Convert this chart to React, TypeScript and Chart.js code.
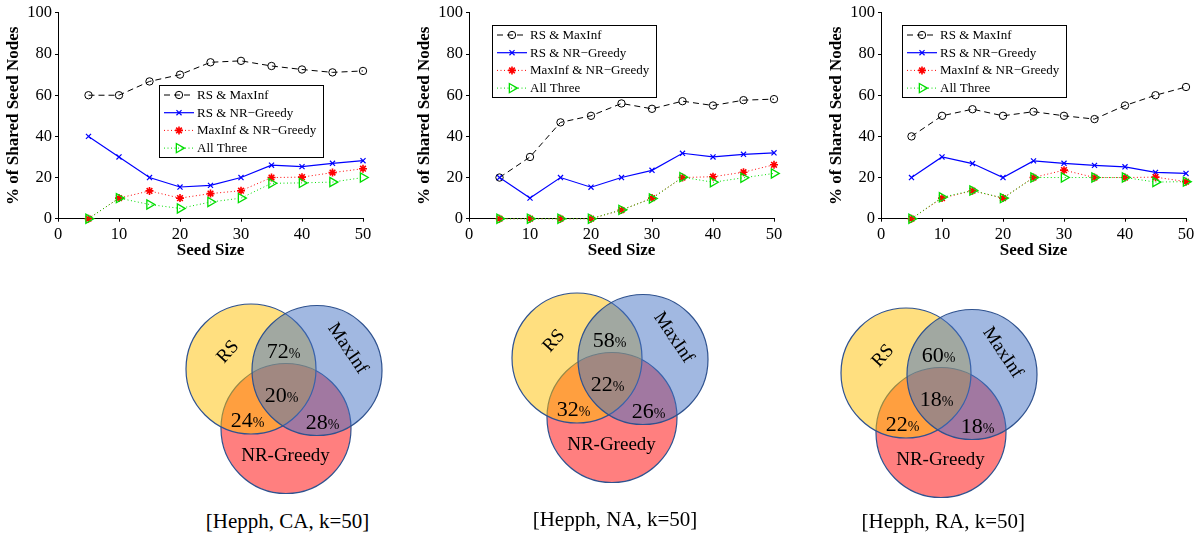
import React, { useEffect, useRef } from 'react';
import { Chart, registerables } from 'chart.js';

Chart.register(...registerables);

const FONT = "'Liberation Serif', 'Times New Roman', Times, serif";
Chart.defaults.font.family = FONT;
Chart.defaults.color = '#000';

// ---------- data ----------
const seedSizes = [5, 10, 15, 20, 25, 30, 35, 40, 45, 50];
const seriesNames = ['RS & MaxInf', 'RS & NR\u2212Greedy', 'MaxInf & NR\u2212Greedy', 'All Three'];
const xTicks = [0, 10, 20, 30, 40, 50];
const yTicks = [0, 20, 40, 60, 80, 100];

const caRsMaxInf = [60, 60, 66.7, 70, 76, 76.7, 74.2, 72.5, 71.1, 71.8];
const caRsNr = [40, 30, 20, 15.4, 16.2, 20, 26, 25.3, 26.9, 28.2];
const caMaxInfNr = [0, 10, 13.5, 10, 12.2, 13.6, 20, 20.2, 22.4, 24.3];
const caAllThree = [0, 10, 6.9, 5, 8.1, 10, 17.2, 17.4, 17.8, 20];

const naRsMaxInf = [20, 30, 46.8, 50, 56, 53.4, 57.1, 55, 57.6, 58.1];
const naRsNr = [20, 10, 20, 15.3, 20, 23.5, 31.8, 30, 31.3, 32];
const naMaxInfNr = [0, 0, 0, 0, 4.2, 10, 20, 20.4, 22.6, 26.2];
const naAllThree = [0, 0, 0, 0, 4.3, 9.8, 20.2, 17.7, 19.9, 22];

const raRsMaxInf = [40, 50, 53.2, 50, 52, 50, 48.4, 55, 60, 64];
const raRsNr = [20, 30, 26.8, 20, 28.1, 26.9, 25.9, 25.2, 22.5, 22];
const raMaxInfNr = [0, 10, 13.6, 10, 20, 23.6, 20, 20, 20.2, 18];
const raAllThree = [0, 10.4, 13.7, 10, 20, 20, 20, 20, 17.8, 18];

const vennSetNames = ['RS', 'MaxInf', 'NR-Greedy'];
// order: RS∩MaxInf, RS∩NR-Greedy, MaxInf∩NR-Greedy, all three
const vennCA = [72, 24, 28, 20];
const vennNA = [58, 32, 26, 22];
const vennRA = [60, 22, 18, 18];
const captions = ['[Hepph, CA, k=50]', '[Hepph, NA, k=50]', '[Hepph, RA, k=50]'];

// ---------- styles / layout ----------
const seriesStyles = [
  { color: '#000000', dash: [6, 4], width: 1, point: 'circle', radius: 3.7, pointWidth: 1, rotation: 0 },
  { color: '#0000FF', dash: [], width: 1.2, point: 'crossRot', radius: 3.6, pointWidth: 1.2, rotation: 0 },
  { color: '#FF0000', dash: [1, 2.5], width: 1, point: 'star', radius: 4, pointWidth: 1.6, rotation: 0 },
  { color: '#00DD00', dash: [1, 2.5], width: 1, point: 'triangle', radius: 5.3, pointWidth: 1.3, rotation: 90 },
];

const VENN_R = 65;
const vennCircleCenters = [
  [0, 0], // RS
  [66, 1.5], // MaxInf
  [35, 59.5], // NR-Greedy
];
const vennFills = ['rgba(255,192,0,0.5)', 'rgba(68,114,196,0.5)', 'rgba(255,0,0,0.5)'];
const vennOrder = [1, 0, 2];
const vennSetLabelPos = [[-23, -17], [96.5, -20.5], [34.5, 87.5]];
const vennSetLabelRot = [-48, 56, 0];
const vennOverlapPos = [[32.5, -18.5], [-3.5, 50.9], [71.7, 52.6], [30.5, 25.6]];

function drawMarker(ctx: CanvasRenderingContext2D, st: any, x: number, y: number) {
  const r = st.radius;
  ctx.save();
  ctx.strokeStyle = st.color;
  ctx.lineWidth = st.pointWidth;
  ctx.setLineDash([]);
  ctx.beginPath();
  if (st.point === 'circle') {
    ctx.arc(x, y, r, 0, Math.PI * 2);
  } else if (st.point === 'crossRot' || st.point === 'star') {
    const d = r * Math.SQRT1_2;
    ctx.moveTo(x - d, y - d); ctx.lineTo(x + d, y + d);
    ctx.moveTo(x - d, y + d); ctx.lineTo(x + d, y - d);
    if (st.point === 'star') {
      ctx.moveTo(x - r, y); ctx.lineTo(x + r, y);
      ctx.moveTo(x, y - r); ctx.lineTo(x, y + r);
    }
  } else if (st.point === 'triangle') {
    let a = (st.rotation * Math.PI) / 180;
    ctx.moveTo(x + Math.sin(a) * r, y - Math.cos(a) * r);
    a += (2 * Math.PI) / 3;
    ctx.lineTo(x + Math.sin(a) * r, y - Math.cos(a) * r);
    a += (2 * Math.PI) / 3;
    ctx.lineTo(x + Math.sin(a) * r, y - Math.cos(a) * r);
    ctx.closePath();
  }
  ctx.stroke();
  ctx.restore();
}

const LINE_W = 375;
const LINE_H = 270;

function LineChart({ left, series, legendPos }: { left: number; series: number[][]; legendPos: number[] }) {
  const ref = useRef<HTMLCanvasElement>(null);
  useEffect(() => {
    if (!ref.current) return;
    const legendPlugin = {
      id: 'boxLegend',
      afterDraw(chart: any) {
        const ctx = chart.ctx as CanvasRenderingContext2D;
        const a = chart.chartArea;
        const bx = Math.round(a.left + legendPos[0]);
        const by = Math.round(a.top + legendPos[1]);
        const bw = 164;
        const bh = 72;
        ctx.save();
        ctx.fillStyle = '#fff';
        ctx.fillRect(bx, by, bw, bh);
        ctx.strokeStyle = '#000';
        ctx.lineWidth = 1;
        ctx.strokeRect(bx + 0.5, by + 0.5, bw, bh);
        chart.data.datasets.forEach((ds: any, i: number) => {
          const st = seriesStyles[i];
          const y = by + 10 + i * 17.7;
          ctx.save();
          ctx.strokeStyle = st.color;
          ctx.lineWidth = st.width;
          ctx.setLineDash(st.dash);
          ctx.beginPath();
          ctx.moveTo(bx + 5, y);
          ctx.lineTo(bx + 35, y);
          ctx.stroke();
          ctx.restore();
          drawMarker(ctx, st, bx + 20, y);
          ctx.fillStyle = '#000';
          ctx.font = `13px ${FONT}`;
          ctx.textAlign = 'left';
          ctx.textBaseline = 'middle';
          ctx.fillText(ds.label, bx + 38, y + 0.5);
        });
        ctx.restore();
      },
    };
    const datasets = series.map((vals, i) => {
      const st = seriesStyles[i];
      return {
        label: seriesNames[i],
        data: seedSizes.map((s, j) => ({ x: s, y: vals[j] })),
        borderColor: st.color,
        borderWidth: st.width,
        borderDash: st.dash,
        pointStyle: st.point,
        pointRadius: st.radius,
        pointRotation: st.rotation,
        pointBorderColor: st.color,
        pointBackgroundColor: 'rgba(0,0,0,0)',
        pointBorderWidth: st.pointWidth,
        tension: 0,
        fill: false,
        order: 3 - i,
        clip: false,
      };
    });
    const chart = new Chart(ref.current, {
      type: 'line',
      data: { datasets } as any,
      options: {
        animation: false,
        responsive: false,
        events: [],
        layout: { padding: { left: 0, right: 12, top: 11, bottom: 0 } },
        plugins: { legend: { display: false }, tooltip: { enabled: false } },
        scales: {
          x: {
            type: 'linear',
            min: 0,
            max: 50,
            afterBuildTicks: (s: any) => { s.ticks = xTicks.map((v) => ({ value: v })); },
            afterFit: (s: any) => { s.height = 51.3; },
            ticks: { font: { size: 16.5 }, color: '#000', padding: 3, maxRotation: 0, autoSkip: false },
            grid: { display: true, drawOnChartArea: false, drawTicks: true, tickLength: 3, color: '#000' },
            border: { display: true, color: '#000', width: 1 },
            title: { display: true, text: 'Seed Size', color: '#000', font: { size: 17, weight: 'bold' }, padding: { top: 0, bottom: 9 } },
          },
          y: {
            type: 'linear',
            min: 0,
            max: 100,
            afterBuildTicks: (s: any) => { s.ticks = yTicks.map((v) => ({ value: v })); },
            afterFit: (s: any) => { s.width = 58; },
            ticks: { font: { size: 16.5 }, color: '#000', padding: 3, autoSkip: false },
            grid: { display: true, drawOnChartArea: false, drawTicks: true, tickLength: 3, color: '#000' },
            border: { display: true, color: '#000', width: 1 },
            title: { display: true, text: '% of Shared Seed Nodes', color: '#000', font: { size: 17, weight: 'bold' }, padding: { top: 3, bottom: 0 } },
          },
        },
      } as any,
      plugins: [legendPlugin],
    });
    return () => chart.destroy();
  }, []);
  return (
    <div style={{ position: 'absolute', left, top: 0, width: LINE_W, height: LINE_H }}>
      <canvas ref={ref} width={LINE_W} height={LINE_H} style={{ display: 'block' }} />
    </div>
  );
}

const VENN_W = 260;
const VENN_H = 230;

function VennChart({ left, top, values }: { left: number; top: number; values: number[] }) {
  const ref = useRef<HTMLCanvasElement>(null);
  useEffect(() => {
    if (!ref.current) return;
    const textPlugin = {
      id: 'vennText',
      afterDatasetsDraw(chart: any) {
        const ctx = chart.ctx as CanvasRenderingContext2D;
        const xs = chart.scales.x;
        const ys = chart.scales.y;
        const P = (p: number[]) => [xs.getPixelForValue(p[0]), ys.getPixelForValue(p[1])];
        ctx.save();
        ctx.fillStyle = '#000';
        vennSetNames.forEach((name, i) => {
          const [px, py] = P(vennSetLabelPos[i]);
          ctx.save();
          ctx.translate(px, py);
          ctx.rotate((vennSetLabelRot[i] * Math.PI) / 180);
          ctx.font = `19px ${FONT}`;
          ctx.textAlign = 'center';
          ctx.textBaseline = 'middle';
          ctx.fillText(name, 0, 0);
          ctx.restore();
        });
        values.forEach((v, i) => {
          const [px, py] = P(vennOverlapPos[i]);
          const num = String(v);
          ctx.font = `22px ${FONT}`;
          const w1 = ctx.measureText(num).width;
          ctx.font = `14px ${FONT}`;
          const w2 = ctx.measureText('%').width;
          const sx = px - (w1 + w2) / 2;
          const base = py + 7.3;
          ctx.textAlign = 'left';
          ctx.textBaseline = 'alphabetic';
          ctx.font = `22px ${FONT}`;
          ctx.fillText(num, sx, base);
          ctx.font = `14px ${FONT}`;
          ctx.fillText('%', sx + w1, base);
        });
        ctx.restore();
      },
    };
    const datasets = vennSetNames.map((name, i) => ({
      label: name,
      data: [{ x: vennCircleCenters[i][0], y: vennCircleCenters[i][1], r: VENN_R }],
      backgroundColor: vennFills[i],
      borderColor: '#2F528F',
      borderWidth: 1.2,
      order: vennOrder[i],
      clip: false,
    }));
    const chart = new Chart(ref.current, {
      type: 'bubble',
      data: { datasets } as any,
      options: {
        animation: false,
        responsive: false,
        events: [],
        layout: { padding: 0, autoPadding: false },
        plugins: { legend: { display: false }, tooltip: { enabled: false } },
        scales: {
          x: { type: 'linear', display: false, min: -100, max: VENN_W - 100 },
          y: { type: 'linear', display: false, min: -90, max: VENN_H - 90, reverse: true },
        },
      } as any,
      plugins: [textPlugin],
    });
    return () => chart.destroy();
  }, []);
  return (
    <div style={{ position: 'absolute', left, top, width: VENN_W, height: VENN_H }}>
      <canvas ref={ref} width={VENN_W} height={VENN_H} style={{ display: 'block' }} />
    </div>
  );
}

function Caption({ cx, top, text }: { cx: number; top: number; text: string }) {
  return (
    <div
      style={{
        position: 'absolute',
        left: cx - 150,
        top,
        width: 300,
        textAlign: 'center',
        fontFamily: FONT,
        fontSize: 21,
        lineHeight: '21px',
        color: '#000',
        whiteSpace: 'nowrap',
      }}
    >
      {text}
    </div>
  );
}

export default function App() {
  return (
    <div style={{ position: 'absolute', left: 0, top: 0, width: 1199, height: 539, overflow: 'hidden', background: '#fff' }}>
      <LineChart left={0} series={[caRsMaxInf, caRsNr, caMaxInfNr, caAllThree]} legendPos={[101, 72]} />
      <LineChart left={411} series={[naRsMaxInf, naRsNr, naMaxInfNr, naAllThree]} legendPos={[22.7, 11.7]} />
      <LineChart left={823} series={[raRsMaxInf, raRsNr, raMaxInfNr, raAllThree]} legendPos={[21.3, 11.7]} />
      <VennChart left={151} top={279.3} values={vennCA} />
      <VennChart left={477} top={267.7} values={vennNA} />
      <VennChart left={806} top={282.7} values={vennRA} />
      <Caption cx={287.5} top={511.4} text={captions[0]} />
      <Caption cx={615} top={509.1} text={captions[1]} />
      <Caption cx={943.3} top={511.4} text={captions[2]} />
    </div>
  );
}
